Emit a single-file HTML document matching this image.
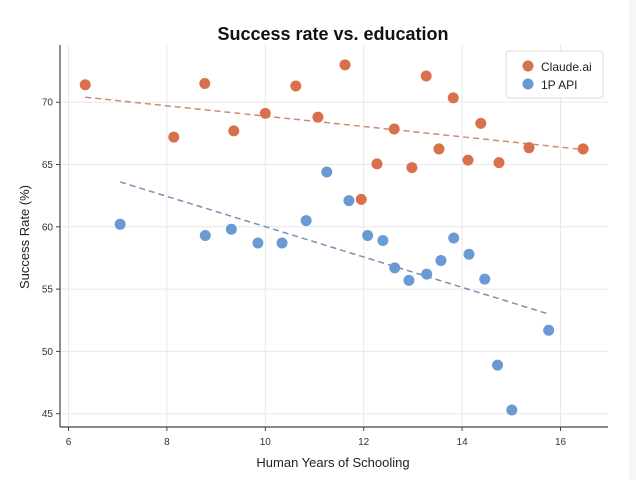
<!DOCTYPE html>
<html><head><meta charset="utf-8"><style>
body{margin:0;background:#fff;width:636px;height:480px;overflow:hidden;font-family:"Liberation Sans",sans-serif}
</style></head><body>
<svg id="chart" width="636" height="480" xmlns="http://www.w3.org/2000/svg" font-family="Liberation Sans, sans-serif">
<rect x="629" y="0" width="7" height="480" fill="#f6f6f6"/>
<text x="333" y="40" text-anchor="middle" font-size="18" font-weight="bold" fill="#111">Success rate vs. education</text>
<g id="grid"></g>
<g id="axes"></g>
<g id="marks"></g>
<text x="333" y="467" text-anchor="middle" font-size="13" fill="#222">Human Years of Schooling</text>
<text transform="translate(29,237) rotate(-90)" text-anchor="middle" font-size="13" fill="#222">Success Rate (%)</text>
<g>
<rect x="506" y="51" width="97" height="47" rx="3" fill="#fff" stroke="#ddd"/>
<g><circle cx="528" cy="66" r="5.5" fill="#d9704c"/><text x="541" y="71" font-size="12" fill="#222">Claude.ai</text></g>
<g><circle cx="528" cy="84" r="5.5" fill="#6a9ad3"/><text x="541" y="89" font-size="12" fill="#222">1P API</text></g>
</g>
</svg>
<script>
const xTicks=[6,8,10,12,14,16];
const yTicks=[45,50,55,60,65,70];
const claudeX=[6.34,8.14,8.77,9.36,10.0,10.62,11.07,11.62,11.95,12.27,12.62,12.98,13.27,13.82,13.53,14.12,14.38,14.75,15.36,16.46];
const claudeY=[71.4,67.2,71.5,67.7,69.1,71.3,68.8,73.0,62.2,65.05,67.85,64.75,72.1,70.35,66.25,65.35,68.3,65.15,66.35,66.25];
const apiX=[7.05,8.78,9.31,9.85,10.34,10.83,11.25,11.7,12.08,12.39,12.63,12.92,13.28,13.57,13.83,14.14,14.46,14.72,15.01,15.76];
const apiY=[60.2,59.3,59.8,58.7,58.7,60.5,64.4,62.1,59.3,58.9,56.7,55.7,56.2,57.3,59.1,57.8,55.8,48.9,45.3,51.7];
const claudeTrendX=[6.34,16.46];
const claudeTrendY=[70.4,66.2];
const apiTrendX=[7.05,15.76];
const apiTrendY=[63.6,53.0];

const NS='http://www.w3.org/2000/svg';
const X0=60,X1=608,Y0=45,Y1=427;
function sx(v){return 68.5+(v-6)*49.2;}
function sy(v){return 413.7-(v-45)*12.46;}
function mk(parent,tag,attrs){const e=document.createElementNS(NS,tag);for(const k in attrs)e.setAttribute(k,attrs[k]);parent.appendChild(e);return e;}
const grid=document.getElementById('grid'),axes=document.getElementById('axes'),marks=document.getElementById('marks');
xTicks.forEach(t=>{
 const l=mk(grid,'line',{x1:sx(t),x2:sx(t),y1:Y0,y2:Y1,stroke:'#e8e8e8','stroke-width':1});
 
 
 const tk=mk(axes,'line',{x1:sx(t),x2:sx(t),y1:Y1,y2:Y1+4,stroke:'#444'});
 
 
 const tx=mk(axes,'text',{x:sx(t),y:Y1+18,'text-anchor':'middle','font-size':10,fill:'#333'});
 tx.textContent=t;
 
 
});
yTicks.forEach(t=>{
 const l=mk(grid,'line',{x1:X0,x2:X1,y1:sy(t),y2:sy(t),stroke:'#e8e8e8','stroke-width':1});
 
 
 const tk=mk(axes,'line',{x1:X0-4,x2:X0,y1:sy(t),y2:sy(t),stroke:'#444'});
 
 
 const tx=mk(axes,'text',{x:X0-7,y:sy(t)+3.5,'text-anchor':'end','font-size':10,fill:'#333'});
 tx.textContent=t;
 
 
});
const ya=mk(axes,'line',{x1:X0,x2:X0,y1:Y0,y2:Y1,stroke:'#444','stroke-width':1.2});


const xa=mk(axes,'line',{x1:X0,x2:X1,y1:Y1,y2:Y1,stroke:'#444','stroke-width':1.2});



const t1=mk(marks,'line',{x1:sx(claudeTrendX[0]),y1:sy(claudeTrendY[0]),x2:sx(claudeTrendX[1]),y2:sy(claudeTrendY[1]),stroke:'#d08a74','stroke-width':1.5,'stroke-dasharray':'6,4'});


const t2=mk(marks,'line',{x1:sx(apiTrendX[0]),y1:sy(apiTrendY[0]),x2:sx(apiTrendX[1]),y2:sy(apiTrendY[1]),stroke:'#7891b0','stroke-width':1.5,'stroke-dasharray':'6,4'});


claudeX.forEach((v,i)=>{
 const c=mk(marks,'circle',{cx:sx(v),cy:sy(claudeY[i]),r:5.5,fill:'#d9704c'});
 
 
});
apiX.forEach((v,i)=>{
 const c=mk(marks,'circle',{cx:sx(v),cy:sy(apiY[i]),r:5.5,fill:'#6a9ad3'});
 
 
});
</script>
</body></html>
